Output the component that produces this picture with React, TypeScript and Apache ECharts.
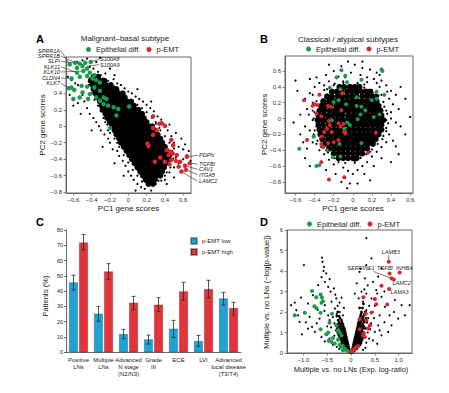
import React, { useEffect, useRef } from "react";
import * as echarts from "echarts";

const FONT = "'Liberation Sans', Arial, Helvetica, sans-serif";
const GREEN = "#1d9a4d";
const RED = "#d7262e";
const BAR_BLUE = "#1fa2d6";
const BAR_RED = "#e2353b";

// ---------- Panel A : Malignant-basal subtype (PC1 vs PC2) ----------
const aCoreRows: [number, number[]][] = [
  [0.6, [-0.38, -0.33]],
  [0.55, [-0.41, -0.36, -0.31, -0.26]],
  [0.5, [-0.39, -0.34, -0.29, -0.24, -0.19]],
  [0.45, [-0.38, -0.33, -0.28, -0.23, -0.18, -0.13]],
  [0.4, [-0.36, -0.31, -0.26, -0.21, -0.16, -0.11, -0.06]],
  [0.35, [-0.34, -0.29, -0.24, -0.19, -0.14, -0.09, -0.04]],
  [0.3, [-0.31, -0.26, -0.21, -0.16, -0.11, -0.06, -0.01, 0.03]],
  [0.25, [-0.29, -0.24, -0.19, -0.14, -0.09, -0.04, 0.01, 0.06]],
  [0.2, [-0.28, -0.23, -0.18, -0.13, -0.08, -0.03, 0.02, 0.07, 0.11]],
  [0.15, [-0.25, -0.2, -0.15, -0.1, -0.05, 0.0, 0.05, 0.1, 0.15]],
  [0.1, [-0.23, -0.18, -0.13, -0.08, -0.03, 0.02, 0.07, 0.12, 0.17]],
  [0.05, [-0.2, -0.15, -0.1, -0.05, 0.0, 0.05, 0.1, 0.15, 0.2]],
  [0.0, [-0.18, -0.13, -0.08, -0.03, 0.02, 0.07, 0.12, 0.17, 0.22, 0.26]],
  [-0.05, [-0.15, -0.1, -0.05, 0.0, 0.05, 0.1, 0.15, 0.2, 0.25, 0.29]],
  [-0.1, [-0.13, -0.08, -0.03, 0.02, 0.07, 0.12, 0.17, 0.22, 0.27, 0.32]],
  [-0.15, [-0.1, -0.05, 0.0, 0.05, 0.1, 0.15, 0.2, 0.25, 0.3, 0.35]],
  [-0.2, [-0.08, -0.03, 0.02, 0.07, 0.12, 0.17, 0.22, 0.27, 0.32, 0.37]],
  [-0.25, [-0.05, 0.0, 0.05, 0.1, 0.15, 0.2, 0.25, 0.3, 0.35, 0.4]],
  [-0.3, [-0.02, 0.03, 0.08, 0.13, 0.18, 0.23, 0.28, 0.33, 0.38, 0.42]],
  [-0.35, [0.01, 0.06, 0.11, 0.16, 0.21, 0.26, 0.31, 0.36, 0.41, 0.45]],
  [-0.4, [0.04, 0.09, 0.14, 0.19, 0.24, 0.29, 0.34, 0.39, 0.44]],
  [-0.45, [0.07, 0.12, 0.17, 0.22, 0.27, 0.32, 0.37, 0.41]],
  [-0.5, [0.1, 0.15, 0.2, 0.25, 0.3, 0.35, 0.39]],
  [-0.55, [0.13, 0.18, 0.23, 0.28, 0.33, 0.37]],
  [-0.6, [0.16, 0.21, 0.26, 0.31, 0.35]],
  [-0.65, [0.19, 0.24, 0.29]],
  [-0.7, [0.22, 0.27]],
];
const aSparse: number[][] = [
  [-0.56, 0.78], [-0.5, 0.8], [-0.45, 0.82], [-0.42, 0.72], [-0.38, 0.7], [-0.33, 0.66], [-0.3, 0.62],
  [-0.28, 0.58], [-0.22, 0.55], [-0.2, 0.5], [-0.62, 0.56], [-0.58, 0.52], [-0.55, 0.5], [-0.5, 0.38],
  [-0.48, 0.3], [-0.55, 0.28], [-0.6, 0.25], [-0.45, 0.22], [-0.42, 0.15], [-0.38, 0.1], [-0.35, 0.05],
  [-0.32, 0.0], [-0.3, -0.05], [-0.26, -0.1], [-0.22, -0.15], [-0.2, -0.2], [-0.17, -0.28], [-0.12, -0.3],
  [-0.1, -0.36], [-0.06, -0.42], [-0.03, -0.48], [0.0, -0.55], [0.03, -0.6], [0.06, -0.65], [0.1, -0.7],
  [0.14, -0.74], [0.18, -0.76], [0.22, -0.72], [0.25, -0.78], [0.3, -0.7], [0.36, -0.66], [0.4, -0.6],
  [0.45, -0.56], [0.5, -0.5], [0.55, -0.45], [0.6, -0.4], [0.64, -0.35], [0.6, -0.28], [0.55, -0.25],
  [0.5, -0.2], [0.47, -0.12], [0.43, -0.05], [0.4, 0.02], [0.36, 0.08], [0.32, 0.12], [0.28, 0.18],
  [0.24, 0.22], [0.2, 0.26], [0.16, 0.3], [0.12, 0.33], [0.08, 0.36], [0.04, 0.4], [0.0, 0.42],
  [-0.04, 0.46], [-0.08, 0.5], [-0.12, 0.52], [-0.16, 0.57], [-0.25, 0.64], [0.45, 0.02], [0.52, -0.08],
  [0.58, -0.15], [0.62, -0.22], [0.66, -0.3], [0.68, -0.42], [-0.15, 0.62], [-0.35, 0.78], [-0.2, 0.7],
  [0.1, 0.45], [0.25, 0.3], [-0.66, 0.6], [-0.64, 0.38], [-0.52, 0.15], [-0.4, -0.05], [-0.28, -0.25],
  [-0.15, -0.45], [-0.05, -0.6], [0.08, -0.78], [0.42, -0.7], [0.5, -0.62], [0.58, -0.55], [-0.31, 0.83],
  [0.3, 0.05], [0.34, -0.02], [0.48, -0.3], [0.52, -0.38], [-0.25, 0.05], [-0.22, -0.05], [0.0, 0.3],
  [0.06, 0.25], [-0.12, -0.2], [0.05, -0.45],
  [-0.02, 0.35], [0.05, 0.31], [0.1, 0.26], [0.15, 0.22], [0.2, 0.17], [0.26, 0.1], [0.3, 0.03],
  [0.35, -0.05], [0.4, -0.12], [0.45, -0.2], [0.5, -0.27], [0.49, -0.39], [0.46, -0.5], [0.42, -0.56],
  [0.4, -0.65], [0.33, -0.66], [0.22, -0.68], [0.15, -0.67], [0.1, -0.6], [0.05, -0.53], [0.0, -0.44],
  [-0.05, -0.35], [-0.1, -0.25], [-0.15, -0.15], [-0.2, -0.08], [-0.23, 0.02], [-0.27, 0.1], [-0.3, 0.18],
  [-0.33, 0.25], [-0.37, 0.32], [-0.4, 0.4], [-0.43, 0.5], [-0.42, 0.58], [-0.1, 0.42], [-0.15, 0.48],
  [-0.22, 0.5],
];
const aGreen: number[][] = [
  [-0.64, 0.75], [-0.58, 0.77], [-0.53, 0.76], [-0.47, 0.77], [-0.41, 0.78], [-0.56, 0.71], [-0.5, 0.73],
  [-0.45, 0.7], [-0.56, 0.65], [-0.49, 0.67], [-0.42, 0.65], [-0.37, 0.62], [-0.53, 0.6], [-0.45, 0.61],
  [-0.39, 0.58], [-0.35, 0.56], [-0.31, 0.53], [-0.62, 0.47], [-0.65, 0.46], [-0.59, 0.44], [-0.51, 0.49],
  [-0.45, 0.48], [-0.37, 0.47], [-0.31, 0.43], [-0.5, 0.41], [-0.42, 0.39], [-0.35, 0.35], [-0.27, 0.35],
  [-0.6, 0.33], [-0.53, 0.35], [-0.44, 0.33], [-0.31, 0.31], [-0.24, 0.33], [-0.27, 0.27], [-0.22, 0.25],
  [-0.16, 0.23], [-0.11, 0.21], [-0.13, 0.13], [0.01, 0.24], [-0.2, -0.02], [-0.62, 0.58],
];
const aRed: number[][] = [
  [0.365, 0.036], [0.4, 0.004], [0.27, -0.02], [0.27, -0.105], [0.47, -0.166], [0.49, -0.23], [0.21, -0.21],
  [0.22, -0.24], [0.42, -0.29], [0.46, -0.31], [0.485, -0.33], [0.44, -0.35], [0.53, -0.35], [0.64, -0.37],
  [0.47, -0.41], [0.52, -0.42], [0.565, -0.43], [0.67, -0.45], [0.4, -0.43], [0.45, -0.46], [0.62, -0.48],
  [0.55, -0.49], [0.63, -0.53], [0.58, -0.55], [0.29, -0.43], [0.35, -0.38], [0.27, 0.12], [0.34, 0.03],
  [0.31, -0.05],
];

// ---------- Panel B : Classical / atypical subtypes ----------
const bCoreRows: [number, number[]][] = [
  [0.4, [-0.14, -0.09, -0.03, 0.02, 0.07]],
  [0.34, [-0.22, -0.17, -0.12, -0.06, -0.01, 0.04, 0.09, 0.14, 0.18]],
  [0.28, [-0.27, -0.22, -0.16, -0.11, -0.06, -0.01, 0.04, 0.1, 0.15, 0.2, 0.24]],
  [0.22, [-0.31, -0.25, -0.2, -0.15, -0.1, -0.05, 0.0, 0.05, 0.1, 0.15, 0.2, 0.25]],
  [0.16, [-0.33, -0.28, -0.23, -0.17, -0.12, -0.07, -0.02, 0.03, 0.08, 0.13, 0.18, 0.23, 0.27]],
  [0.1, [-0.35, -0.3, -0.24, -0.19, -0.14, -0.09, -0.04, 0.01, 0.06, 0.11, 0.16, 0.21, 0.25, 0.29]],
  [0.04, [-0.36, -0.31, -0.26, -0.21, -0.16, -0.11, -0.05, 0.0, 0.05, 0.1, 0.15, 0.2, 0.25, 0.3]],
  [-0.02, [-0.37, -0.32, -0.27, -0.22, -0.17, -0.12, -0.07, -0.02, 0.03, 0.08, 0.13, 0.18, 0.23, 0.28, 0.32]],
  [-0.08, [-0.36, -0.31, -0.25, -0.2, -0.15, -0.1, -0.05, 0.0, 0.05, 0.1, 0.15, 0.2, 0.25, 0.3]],
  [-0.14, [-0.35, -0.3, -0.25, -0.2, -0.15, -0.1, -0.04, 0.01, 0.06, 0.11, 0.16, 0.21, 0.26, 0.3]],
  [-0.2, [-0.34, -0.28, -0.23, -0.18, -0.13, -0.08, -0.03, 0.02, 0.07, 0.12, 0.17, 0.22, 0.27]],
  [-0.26, [-0.32, -0.26, -0.21, -0.16, -0.11, -0.06, -0.01, 0.04, 0.09, 0.14, 0.19, 0.24]],
  [-0.32, [-0.29, -0.24, -0.19, -0.14, -0.09, -0.04, 0.01, 0.06, 0.11, 0.16, 0.21]],
  [-0.38, [-0.25, -0.2, -0.15, -0.1, -0.05, 0.0, 0.05, 0.1, 0.15]],
  [-0.44, [-0.2, -0.15, -0.1, -0.05, 0.0, 0.05, 0.1]],
  [-0.5, [-0.15, -0.1, -0.05, 0.0, 0.04]],
];
const bSparse: number[][] = [
  [-0.05, 0.72], [0.02, 0.68], [-0.12, 0.66], [0.1, 0.64], [0.18, 0.62], [-0.2, 0.6], [0.25, 0.58],
  [-0.28, 0.55], [-0.02, 0.58], [0.08, 0.55], [0.15, 0.52], [-0.15, 0.53], [0.22, 0.5], [0.3, 0.48],
  [-0.25, 0.47], [-0.35, 0.45], [0.35, 0.42], [-0.4, 0.4], [-0.3, 0.42], [0.28, 0.4], [-0.6, 0.48],
  [-0.45, 0.5], [0.4, 0.35], [0.45, 0.3], [-0.45, 0.32], [-0.5, 0.25], [0.38, 0.25], [0.42, 0.18],
  [0.48, 0.12], [-0.42, 0.2], [-0.48, 0.12], [-0.55, 0.05], [0.36, 0.06], [0.4, 0.0], [0.45, -0.05],
  [0.5, -0.1], [0.55, -0.2], [-0.42, -0.02], [-0.5, -0.1], [-0.45, -0.15], [-0.55, -0.2], [-0.4, -0.22],
  [0.35, -0.12], [0.38, -0.2], [0.42, -0.28], [0.35, -0.3], [0.3, -0.36], [0.45, -0.35], [0.25, -0.42],
  [0.2, -0.48], [0.3, -0.5], [0.15, -0.55], [0.1, -0.6], [0.22, -0.6], [0.05, -0.65], [0.0, -0.7],
  [-0.05, -0.66], [-0.1, -0.62], [-0.08, -0.75], [-0.12, -0.8], [-0.03, -0.82], [-0.06, -0.88],
  [0.12, -0.7], [-0.18, -0.7], [-0.2, -0.58], [-0.25, -0.52], [-0.3, -0.45], [-0.35, -0.4], [-0.38, -0.32],
  [-0.42, -0.3], [-0.48, -0.38], [-0.52, -0.3], [-0.32, -0.55], [-0.28, -0.65], [0.08, -0.5], [0.28, 0.55],
  [-0.38, 0.52], [0.05, 0.45], [-0.1, 0.47], [0.12, 0.43], [-0.2, 0.42], [0.2, 0.36], [0.3, 0.3],
  [0.33, 0.15], [0.35, -0.02], [0.32, -0.22], [-0.4, 0.08], [-0.38, -0.1], [-0.42, 0.3], [0.25, 0.45],
  [0.18, -0.42], [-0.22, -0.45], [-0.15, -0.55], [0.02, -0.56], [0.6, 0.02], [0.55, 0.25], [-0.62, -0.05],
  [-0.58, 0.35], [0.5, 0.4], [0.48, -0.45], [0.4, -0.55], [-0.5, -0.5], [-0.45, -0.6], [0.1, 0.72],
  [-0.25, 0.68], [0.05, -0.82], [0.18, -0.78], [-0.08, 0.52], [0.15, 0.46], [-0.3, 0.36], [0.36, 0.34],
  [-0.41, 0.0], [-0.42, 0.1], [-0.4, -0.15], [-0.38, 0.22], [-0.34, 0.3], [-0.27, 0.37], [-0.19, 0.44],
  [-0.1, 0.45], [0.05, 0.42], [0.12, 0.39], [0.21, 0.33], [0.27, 0.29], [0.32, 0.21], [0.35, 0.1],
  [0.37, -0.06], [0.35, -0.16], [0.31, -0.26], [0.26, -0.32], [0.2, -0.39], [0.14, -0.45], [0.08, -0.49],
  [0.02, -0.54], [-0.08, -0.56], [-0.19, -0.5], [-0.26, -0.43], [-0.33, -0.36], [-0.37, -0.28],
  [-0.41, -0.2], [0.4, 0.08], [-0.46, 0.05],
];
const bGreen: number[][] = [
  [-0.12, 0.61], [-0.08, 0.54], [-0.17, 0.52], [-0.06, 0.46], [-0.24, 0.39], [-0.13, 0.37], [0.09, 0.49],
  [0.3, 0.62], [0.31, 0.6], [0.25, 0.34], [0.33, 0.3], [0.04, 0.27], [-0.2, 0.21], [-0.15, 0.23],
  [-0.07, 0.18], [0.04, 0.16], [0.09, 0.15], [0.2, 0.23], [0.25, 0.25], [0.13, 0.105], [0.08, 0.05],
  [0.28, 0.05], [0.22, 0.02], [-0.22, -0.02], [-0.06, -0.05], [-0.03, -0.08], [-0.09, -0.13],
  [-0.41, -0.23], [-0.27, -0.4], [-0.21, -0.49], [-0.13, -0.48], [-0.56, -0.38], [-0.38, -0.6],
  [-0.35, -0.59], [0.09, -0.31], [-0.14, -0.32], [0.05, -0.01],
];
const bRed: number[][] = [
  [-0.51, 0.23], [-0.42, 0.16], [-0.4, 0.18], [-0.37, 0.17], [-0.35, 0.3], [-0.38, 0.06], [-0.33, 0.03],
  [-0.26, 0.16], [-0.23, 0.15], [-0.11, 0.32], [-0.12, 0.105], [-0.25, -0.03], [-0.24, -0.08],
  [-0.27, -0.13], [-0.15, -0.06], [-0.13, -0.1], [-0.1, -0.07], [-0.08, -0.19], [-0.09, -0.17],
  [-0.22, -0.17], [-0.48, -0.27], [-0.33, -0.23], [-0.33, -0.32], [-0.31, -0.36], [-0.26, -0.31],
  [-0.2, -0.3], [-0.15, -0.27], [-0.33, -0.55], [-0.25, -0.77], [-0.09, -0.74], [0.24, -0.18],
  [0.16, -0.43], [-0.3, -0.17],
];

// ---------- Panel C : clinical features ----------
const categories = [
  "Positive\nLNs", "Multiple\nLNs", "Advanced\nN stage\n(N2/N3)", "Grade\nIII", "ECE", "LVI",
  "Advanced\nlocal disease\n(T3/T4)",
];
const lowVals = [45.8, 25.3, 12.0, 8.5, 15.5, 7.4, 35.3];
const lowErrLo = [40.7, 20.3, 8.9, 5.4, 9.6, 3.9, 30.9];
const lowErrHi = [50.5, 30.1, 15.0, 11.3, 20.9, 11.1, 39.2];
const highVals = [71.9, 52.9, 32.5, 31.2, 39.9, 41.4, 29.0];
const highErrLo = [66.9, 47.7, 27.7, 26.6, 34.0, 35.7, 24.4];
const highErrHi = [77.1, 58.0, 36.6, 35.7, 45.8, 47.1, 32.7];

// ---------- Panel D : volcano ----------
const dCoreRows: [number, number[]][] = [
  [0.03, [-0.02, 0.0, 0.02]],
  [0.1, [-0.06, -0.04, -0.02, 0.01, 0.03, 0.05, 0.07]],
  [0.2, [-0.1, -0.08, -0.06, -0.04, 0.03, 0.05, 0.08, 0.1, 0.12]],
  [0.3, [-0.13, -0.11, -0.08, -0.05, 0.04, 0.07, 0.1, 0.13, 0.15]],
  [0.4, [-0.15, -0.12, -0.09, -0.06, 0.05, 0.08, 0.11, 0.14, 0.17, 0.19]],
  [0.5, [-0.19, -0.16, -0.13, -0.1, -0.07, 0.06, 0.09, 0.12, 0.15, 0.18, 0.21]],
  [0.6, [-0.2, -0.17, -0.14, -0.11, -0.08, 0.07, 0.1, 0.13, 0.16, 0.19, 0.22]],
  [0.7, [-0.22, -0.18, -0.15, -0.12, -0.09, 0.08, 0.11, 0.14, 0.17, 0.2, 0.24]],
  [0.8, [-0.24, -0.2, -0.16, -0.13, -0.1, 0.09, 0.12, 0.15, 0.18, 0.22, 0.26]],
  [0.9, [-0.26, -0.22, -0.18, -0.14, -0.11, 0.1, 0.13, 0.16, 0.2, 0.24]],
  [1.0, [-0.28, -0.23, -0.19, -0.15, -0.12, 0.11, 0.14, 0.18, 0.22, 0.27]],
  [1.1, [-0.26, -0.21, -0.17, -0.13, 0.12, 0.15, 0.19, 0.23]],
  [1.2, [-0.29, -0.23, -0.18, -0.14, 0.13, 0.16, 0.2, 0.25, 0.3]],
  [1.3, [-0.25, -0.2, -0.16, 0.14, 0.18, 0.22, 0.27]],
  [1.4, [-0.28, -0.22, -0.17, 0.15, 0.19, 0.24]],
  [1.5, [-0.25, -0.19, 0.16, 0.21, 0.27, 0.33]],
  [1.6, [-0.27, -0.2, 0.17, 0.22, 0.28]],
  [1.7, [-0.23, 0.18, 0.24, 0.31]],
  [1.8, [-0.3, -0.25, 0.2, 0.26]],
  [1.9, [0.21, 0.28]],
  [2.0, [-0.28, 0.22, 0.3]],
  [2.2, [0.18, 0.24]],
  [2.4, [0.26]],
];
const dSparse: number[][] = [
  [-0.99, 4.29], [-0.61, 4.65], [-0.6, 4.45], [-0.57, 4.2], [-0.55, 3.47], [-1.18, 2.46], [-1.15, 2.09],
  [-1.08, 1.52], [-0.87, 1.76], [-0.9, 2.41], [-0.8, 2.82], [-0.69, 3.31], [-0.52, 3.88], [-0.48, 3.23],
  [-0.43, 2.99], [-0.36, 3.15], [-0.31, 2.66], [-0.24, 2.46], [-0.41, 2.5], [-0.55, 2.33], [-0.34, 2.17],
  [-0.24, 2.0], [-0.17, 1.84], [-0.48, 1.84], [-0.66, 1.68], [-0.82, 1.27], [-0.76, 1.03], [-0.62, 0.78],
  [-0.55, 0.57], [-0.9, 1.19], [-1.03, 0.91], [-1.11, 1.84], [-1.26, 2.33], [-0.45, 1.6], [-0.38, 1.75],
  [-0.35, 1.45], [-0.42, 1.25], [-0.5, 1.3], [-0.3, 1.9], [-0.28, 2.3], [-0.2, 2.7], [-0.15, 2.2],
  [-0.56, 2.05], [-0.7, 2.1], [-0.38, 0.4], [-0.45, 0.7], [-0.35, 0.85], [-0.3, 0.3], [-0.25, 0.2],
  [-0.4, 0.55], [-0.5, 0.9], [-0.62, 3.7], [-0.58, 4.0], [-0.45, 3.6], [-0.33, 2.85], [-1.05, 2.7],
  [-0.95, 1.5], [-0.72, 1.45], [-0.32, 1.1], [-0.28, 0.6], [-0.2, 0.45],
  [0.32, 5.6], [0.43, 4.62], [0.32, 4.29], [0.18, 3.96], [0.29, 3.64], [0.46, 3.47], [0.57, 3.72],
  [0.64, 4.13], [0.22, 2.99], [0.32, 2.9], [0.43, 2.66], [0.53, 3.07], [0.64, 2.74], [0.71, 2.25],
  [0.81, 1.84], [0.85, 1.35], [0.78, 1.03], [0.99, 1.68], [1.13, 1.84], [1.23, 2.33], [1.06, 2.33],
  [0.92, 2.58], [0.6, 1.84], [0.57, 1.35], [0.5, 1.03], [0.64, 0.86], [0.46, 0.62], [0.32, 2.09],
  [0.25, 2.5], [0.16, 2.66], [0.38, 2.3], [0.45, 2.0], [0.36, 1.7], [0.42, 1.45], [0.48, 1.7],
  [0.4, 1.15], [0.35, 1.0], [0.38, 0.7], [0.32, 0.5], [0.3, 0.25], [0.25, 0.15], [0.55, 0.45],
  [0.6, 1.1], [0.7, 1.5], [0.35, 3.3], [0.12, 3.4], [0.28, 3.1], [0.5, 2.3], [0.2, 1.85], [0.37, 1.25],
  [0.3, 0.8], [0.55, 2.9], [0.7, 3.0], [0.9, 2.0], [0.2, 4.1], [0.08, 2.9],
];
const dGreen: number[][] = [
  [-1.18, 1.84], [-0.97, 1.96], [-0.82, 3.02], [-0.73, 2.72], [-0.64, 2.85], [-0.61, 2.71], [-0.59, 2.53],
  [-0.62, 2.45], [-0.77, 2.28], [-0.73, 2.2], [-0.64, 1.96], [-0.4, 1.91], [-0.45, 1.48], [-0.64, 1.16],
  [-0.48, 1.0], [-0.52, 0.91], [-0.27, 1.11], [-0.24, 1.0], [-0.31, 1.35], [-0.41, 0.54], [-0.34, 0.46],
  [-0.24, 0.41], [-0.17, 0.34], [-0.13, 0.21], [-0.1, 0.13], [-0.06, 0.08], [-0.27, 0.67], [-0.2, 0.86],
  [-0.47, 0.6], [-0.38, 0.73], [-0.17, 0.13], [-0.22, 0.29],
];
const dRed: number[][] = [
  [0.79, 4.45], [0.81, 3.88], [1.02, 3.93], [0.85, 3.64], [0.9, 3.59], [0.64, 3.28], [0.8, 3.12],
  [0.76, 2.37], [0.26, 2.72], [0.5, 2.63], [0.53, 2.38], [0.43, 1.97], [0.31, 1.91], [0.18, 1.65],
  [0.32, 1.6], [0.4, 1.35], [0.18, 1.16], [0.27, 0.95], [0.25, 0.86], [0.29, 0.78], [0.36, 1.19],
  [0.04, 0.13], [0.08, 0.21], [0.11, 0.29], [0.01, 0.08], [0.15, 0.34],
];

// ---------- Annotations ----------
const aLeftLabels: [string, number, number, number][] = [
  ["SPRR1A", 50.7, -0.64, 0.75],
  ["SPRR1B", 56, -0.58, 0.77],
  ["SLPI", 61.3, -0.53, 0.76],
  ["KLK11", 66.7, -0.56, 0.65],
  ["KLK10", 72, -0.49, 0.67],
  ["CLDN4", 78, -0.62, 0.58],
  ["KLK7", 83.3, -0.65, 0.46],
];
const aTopLabels: [string, number, number, number][] = [
  ["S100A8", 59.3, -0.41, 0.78],
  ["S100A9", 64.7, -0.45, 0.73],
];
const aRightLabels: [string, number, number, number][] = [
  ["PDPN", 155.3, 0.64, -0.37],
  ["TGFBI", 164, 0.67, -0.45],
  ["CAV1", 169.3, 0.62, -0.48],
  ["ITGA5", 174.7, 0.63, -0.53],
  ["LAMC2", 181, 0.58, -0.55],
];

const rowsToPoints = (rows: [number, number[]][]) => {
  const out: number[][] = [];
  rows.forEach(([y, xs]) => xs.forEach((x) => out.push([x, y])));
  return out;
};

const fmt1 = (v: number) => (Math.abs(v) < 1e-9 ? "0" : (v < 0 ? "\u2212" : "") + Math.abs(v).toFixed(1));

function scatterAxis(idx: number, min: number, max: number, ticks: number[], fmt: (v: number) => string, fs: number) {
  return {
    type: "value",
    gridIndex: idx,
    min,
    max,
    axisLine: { show: true, onZero: false, lineStyle: { color: "#666", width: 1 } },
    axisTick: { show: true, length: 2.5, customValues: ticks, lineStyle: { color: "#666", width: 0.8 } },
    axisLabel: { show: true, customValues: ticks, fontSize: fs, color: "#333", margin: 4, fontFamily: FONT, formatter: fmt },
    splitLine: { show: false },
  };
}

export default function App() {
  const ref = useRef<HTMLDivElement>(null);
  useEffect(() => {
    if (!ref.current) return;
    const chart = echarts.init(ref.current, null, { renderer: "svg" });
    const blackSeries = (idx: number, data: number[][], size: number, name: string) => ({
      type: "scatter", name, xAxisIndex: idx, yAxisIndex: idx, data, symbol: "circle", symbolSize: size,
      itemStyle: { color: "#000", opacity: 1, borderWidth: 0 }, silent: true, z: 2,
    });
    const colSeries = (idx: number, data: number[][], size: number, name: string, color: string) => ({
      type: "scatter", name, xAxisIndex: idx, yAxisIndex: idx, data, symbol: "circle", symbolSize: size,
      itemStyle: { color, opacity: 1, borderWidth: 0 }, silent: true, z: 3,
    });
    const errData: number[][] = [];
    lowVals.forEach((_, i) => {
      errData.push([i, lowErrLo[i], lowErrHi[i], -5]);
      errData.push([i, highErrLo[i], highErrHi[i], 5]);
    });
    const legendText = { fontSize: 7.5, fontFamily: FONT, color: "#222" };
    const option: any = {
      animation: false,
      backgroundColor: "#fff",
      textStyle: { fontFamily: FONT },
      grid: [
        { left: 66, top: 57, width: 125, height: 136, show: true, borderColor: "#666", borderWidth: 1 },
        { left: 285, top: 56, width: 128, height: 137, show: true, borderColor: "#666", borderWidth: 1 },
        { left: 66, top: 230, width: 175, height: 122.3 },
        { left: 287, top: 230, width: 125, height: 123, show: true, borderColor: "#666", borderWidth: 1 },
      ],
      xAxis: [
        scatterAxis(0, -0.68, 0.685, [-0.6, -0.4, -0.2, 0, 0.2, 0.4, 0.6], fmt1, 6),
        scatterAxis(1, -0.71, 0.63, [-0.6, -0.4, -0.2, 0, 0.2, 0.4, 0.6], fmt1, 6),
        {
          type: "category", gridIndex: 2, data: categories,
          axisLine: { show: true, lineStyle: { color: "#444", width: 0.8 } },
          axisTick: { show: false },
          axisLabel: { interval: 0, fontSize: 6, lineHeight: 7, color: "#222", margin: 4, fontFamily: FONT },
        },
        scatterAxis(3, -1.344, 1.28, [-1, -0.5, 0, 0.5, 1], fmt1, 6),
      ],
      yAxis: [
        scatterAxis(0, -0.81, 0.84, [-0.8, -0.6, -0.4, -0.2, 0, 0.2, 0.4], fmt1, 6),
        scatterAxis(1, -0.94, 0.79, [-0.8, -0.6, -0.4, -0.2, 0, 0.2, 0.4, 0.6], fmt1, 6),
        {
          type: "value", gridIndex: 2, min: 0, max: 80, interval: 10,
          axisLine: { show: true, lineStyle: { color: "#444", width: 0.8 } },
          axisTick: { show: true, length: 2, lineStyle: { color: "#444", width: 0.8 } },
          axisLabel: { fontSize: 5.5, color: "#222", margin: 3, fontFamily: FONT },
          splitLine: { show: false },
        },
        scatterAxis(3, 0, 6, [0, 1, 2, 3, 4, 5, 6], (v: number) => String(Math.round(v)), 6),
      ],
      legend: [
        { data: ["Epithelial diff.", "p-EMT"], left: 86, top: 45.5, icon: "circle", itemWidth: 5, itemHeight: 5, itemGap: 6, padding: 0, textStyle: legendText, selectedMode: false },
        { data: ["Epithelial diff.", "p-EMT"], left: 306, top: 45, icon: "circle", itemWidth: 5, itemHeight: 5, itemGap: 6, padding: 0, textStyle: legendText, selectedMode: false },
        { data: ["Epithelial diff.", "p-EMT"], left: 307, top: 220, icon: "circle", itemWidth: 5, itemHeight: 5, itemGap: 6, padding: 0, textStyle: legendText, selectedMode: false },
        { data: ["p-EMT low", "p-EMT high"], orient: "vertical", left: 190, top: 237, icon: "rect", itemWidth: 6, itemHeight: 6, itemGap: 3, padding: 0, textStyle: { fontSize: 6, fontFamily: FONT, color: "#222" }, selectedMode: false },
      ],
      series: [
        blackSeries(0, rowsToPoints(aCoreRows), 6, "A genes"),
        blackSeries(0, aSparse, 2.2, "A genes sparse"),
        colSeries(0, aGreen, 4.5, "Epithelial diff.", GREEN),
        colSeries(0, aRed, 4.5, "p-EMT", RED),
        blackSeries(1, rowsToPoints(bCoreRows), 6, "B genes"),
        blackSeries(1, bSparse, 2.2, "B genes sparse"),
        colSeries(1, bGreen, 4, "Epithelial diff.", GREEN),
        colSeries(1, bRed, 4, "p-EMT", RED),
        {
          type: "bar", name: "p-EMT low", xAxisIndex: 2, yAxisIndex: 2, data: lowVals, barWidth: 9, barGap: "12%",
          itemStyle: { color: BAR_BLUE, borderColor: "rgba(0,0,0,0.35)", borderWidth: 0.6 },
        },
        {
          type: "bar", name: "p-EMT high", xAxisIndex: 2, yAxisIndex: 2, data: highVals, barWidth: 9, barGap: "12%",
          itemStyle: { color: BAR_RED, borderColor: "rgba(0,0,0,0.35)", borderWidth: 0.6 },
        },
        {
          type: "custom", name: "err", xAxisIndex: 2, yAxisIndex: 2, data: errData, z: 10, silent: true,
          encode: { x: 0, y: [1, 2] },
          renderItem: (_p: any, api: any) => {
            const i = api.value(0);
            const lo = api.coord([i, api.value(1)]);
            const hi = api.coord([i, api.value(2)]);
            const x = lo[0] + api.value(3);
            const st = { stroke: "#2a2a2a", lineWidth: 0.8 };
            return {
              type: "group",
              children: [
                { type: "line", shape: { x1: x, y1: lo[1], x2: x, y2: hi[1] }, style: st },
                { type: "line", shape: { x1: x - 2, y1: hi[1], x2: x + 2, y2: hi[1] }, style: st },
                { type: "line", shape: { x1: x - 2, y1: lo[1], x2: x + 2, y2: lo[1] }, style: st },
              ],
            };
          },
        },
        blackSeries(3, rowsToPoints(dCoreRows), 2.8, "D genes"),
        blackSeries(3, dSparse, 2, "D genes sparse"),
        colSeries(3, dGreen, 4, "Epithelial diff.", GREEN),
        colSeries(3, dRed, 4, "p-EMT", RED),
      ],
    };
    chart.setOption(option);

    const px = (i: number, p: number[]) => chart.convertToPixel({ xAxisIndex: i, yAxisIndex: i } as any, p) as number[];
    const txt = (text: string, x: number, y: number, o: any = {}) => ({
      type: "text", x, y, silent: true, rotation: o.rotation || 0,
      style: {
        text, fill: o.fill || "#222", fontSize: o.fontSize || 7, fontFamily: FONT,
        fontWeight: o.fontWeight || "normal", fontStyle: o.fontStyle || "normal",
        textAlign: o.align || "center", textVerticalAlign: "middle", rich: o.rich,
      },
    });
    const ln = (x1: number, y1: number, x2: number, y2: number) => ({
      type: "line", silent: true, shape: { x1, y1, x2, y2 }, style: { stroke: "#222", lineWidth: 0.6 },
    });
    const g: any[] = [];
    // panel letters
    g.push(txt("A", 40, 38.5, { fontSize: 11, fontWeight: "bold", fill: "#000" }));
    g.push(txt("B", 264, 39, { fontSize: 11, fontWeight: "bold", fill: "#000" }));
    g.push(txt("C", 40, 222, { fontSize: 11, fontWeight: "bold", fill: "#000" }));
    g.push(txt("D", 264, 222, { fontSize: 11, fontWeight: "bold", fill: "#000" }));
    // titles
    g.push(txt("Malignant\u2013basal subtype", 125, 38.5, { fontSize: 8 }));
    g.push(txt("Classical / atypical subtypes", 348, 39, { fontSize: 8 }));
    // axis names
    g.push(txt("PC2 gene scores", 42.5, 125, { fontSize: 8, rotation: Math.PI / 2 }));
    g.push(txt("PC1 gene scores", 128.5, 208, { fontSize: 8 }));
    g.push(txt("PC2 gene scores", 264.5, 124.5, { fontSize: 8, rotation: Math.PI / 2 }));
    g.push(txt("PC1 gene scores", 353, 208, { fontSize: 8 }));
    g.push(txt("Patients (%)", 45, 296, { fontSize: 7.5, rotation: Math.PI / 2 }));
    g.push(txt("Multiple vs. no LNs (\u2212log[{i|p}-value])", 266.5, 292, {
      fontSize: 7.5, rotation: Math.PI / 2, rich: { i: { fontStyle: "italic", fontSize: 7.5, fontFamily: FONT, fill: "#222" } },
    }));
    g.push(txt("Multiple vs. no LNs (Exp. log-ratio)", 351, 369, { fontSize: 7.5 }));
    // gene labels panel A
    const gl = { fontSize: 5.5, fontStyle: "italic" };
    aLeftLabels.forEach(([name, y, dx, dy]) => {
      const p = px(0, [dx, dy]);
      g.push(ln(61, y, p[0], p[1]));
      g.push(txt(name, 60, y, { ...gl, align: "right" }));
    });
    aTopLabels.forEach(([name, y, dx, dy]) => {
      const p = px(0, [dx, dy]);
      g.push(ln(p[0], p[1], 99, y));
      g.push(txt(name, 100, y, { ...gl, align: "left" }));
    });
    aRightLabels.forEach(([name, y, dx, dy]) => {
      const p = px(0, [dx, dy]);
      g.push(ln(p[0], p[1], 197.5, y));
      g.push(txt(name, 199, y, { ...gl, align: "left" }));
    });
    // gene labels panel D
    const lamb3 = px(3, [0.79, 4.45]);
    g.push(ln(lamb3[0], 255, lamb3[0], lamb3[1]));
    g.push(txt("LAMB3", 390.7, 251.7, gl));
    const serp = px(3, [0.85, 3.64]);
    g.push(ln(373.5, 271.5, serp[0], serp[1]));
    g.push(txt("SERPINE1", 347.5, 268.3, { ...gl, align: "left" }));
    g.push(txt("TGFBI", 376.7, 268.3, { ...gl, align: "left" }));
    g.push(txt("INHBA", 396, 268.3, { ...gl, align: "left" }));
    g.push(txt("LAMC2", 401.7, 283.3, gl));
    g.push(txt("LAMA3", 399.5, 291.7, gl));
    chart.setOption({ graphic: g });

    return () => chart.dispose();
  }, []);
  return (
    <div
      ref={ref}
      style={{ position: "fixed", left: 0, top: 0, width: 449, height: 393, background: "#fff" }}
    />
  );
}
